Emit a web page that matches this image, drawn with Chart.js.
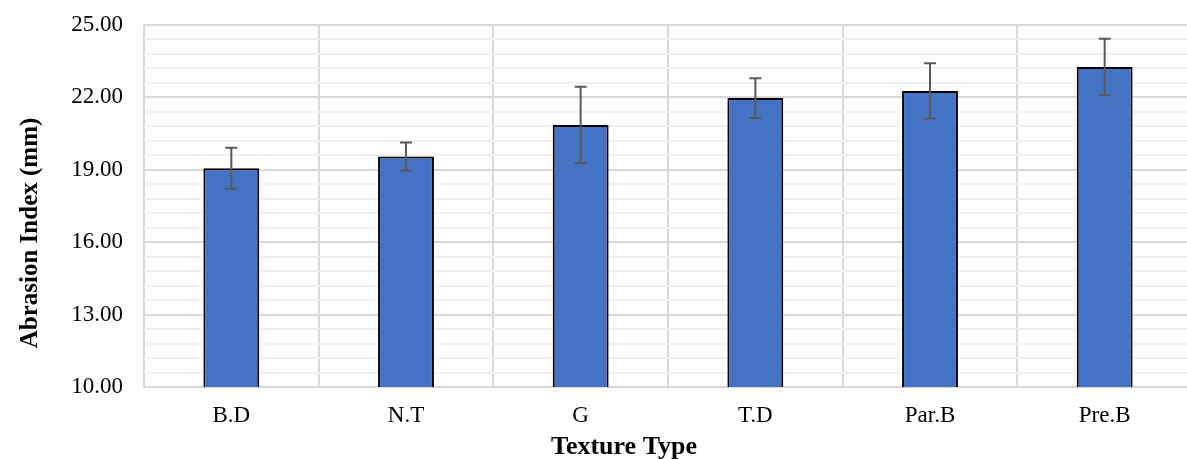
<!DOCTYPE html>
<html>
<head>
<meta charset="utf-8">
<script src="https://cdn.jsdelivr.net/npm/chart.js@4"></script>
<style>
  html, body { margin: 0; padding: 0; background: #fff; overflow: hidden; }
  #wrap { width: 1195px; height: 459px; position: relative; }
</style>
</head>
<body>
<div id="wrap"><canvas id="chart"></canvas></div>
<script>
// chart data
const categories = ["B.D", "N.T", "G", "T.D", "Par.B", "Pre.B"];
const values = [19.06, 19.55, 20.86, 21.97, 22.27, 23.26];
const errors = [0.85, 0.58, 1.58, 0.82, 1.14, 1.17];
const majorTicks = [10, 13, 16, 19, 22, 25];
const minorStep = 0.6;

const FONT = "'Liberation Serif', 'Times New Roman', serif";

// error bars drawn through the y scale
const errorBars = {
  id: "errorBars",
  afterDatasetsDraw(chart) {
    const ctx = chart.ctx;
    const y = chart.scales.y;
    const meta = chart.getDatasetMeta(0);
    ctx.save();
    ctx.strokeStyle = "#595959";
    ctx.lineWidth = 2;
    meta.data.forEach((bar, i) => {
      const top = y.getPixelForValue(values[i] + errors[i]);
      const bot = y.getPixelForValue(values[i] - errors[i]);
      ctx.beginPath();
      ctx.moveTo(bar.x, top);
      ctx.lineTo(bar.x, bot);
      ctx.moveTo(bar.x - 6, top);
      ctx.lineTo(bar.x + 6, top);
      ctx.moveTo(bar.x - 6, bot);
      ctx.lineTo(bar.x + 6, bot);
      ctx.stroke();
    });
    ctx.restore();
  }
};

// axis titles (placed like the original, not centred on the plot)
const axisTitles = {
  id: "axisTitles",
  afterDraw(chart) {
    const ctx = chart.ctx;
    ctx.save();
    ctx.fillStyle = "#000";
    ctx.textAlign = "center";
    ctx.textBaseline = "alphabetic";
    ctx.font = "bold 26px " + FONT;
    ctx.fillText("Texture Type", 624, 454);
    ctx.translate(37, 233);
    ctx.rotate(-Math.PI / 2);
    ctx.font = "bold 25px " + FONT;
    ctx.fillText("Abrasion Index (mm)", 0, 0);
    ctx.restore();
  }
};

const isMajor = v => majorTicks.some(m => Math.abs(m - v) < 1e-6);

new Chart(document.getElementById("chart"), {
  type: "bar",
  data: {
    labels: categories,
    datasets: [{
      data: values,
      backgroundColor: "#4472c4",
      borderColor: "#000",
      borderWidth: 2,
      borderSkipped: false,
      categoryPercentage: 1,
      barPercentage: 0.32
    }]
  },
  options: {
    responsive: true,
    maintainAspectRatio: false,
    animation: false,
    layout: { padding: { top: 25, right: 3, left: 0, bottom: 0 } },
    plugins: {
      legend: { display: false },
      tooltip: { enabled: false }
    },
    scales: {
      x: {
        grid: { color: "#d9d9d9", lineWidth: 2, drawTicks: false, offset: true },
        border: { color: "#d9d9d9", width: 2 },
        ticks: { color: "#000", font: { family: FONT, size: 23 }, padding: 15 },
        afterFit(s) { s.height = 72; s.paddingLeft = 0; s.paddingRight = 0; }
      },
      y: {
        min: 10,
        max: 25,
        afterBuildTicks(s) {
          const t = [];
          for (let i = 0; majorTicks[0] + i * minorStep <= majorTicks[majorTicks.length - 1] + 1e-6; i++) {
            t.push({ value: +(majorTicks[0] + i * minorStep).toFixed(2) });
          }
          s.ticks = t;
        },
        grid: {
          drawTicks: false,
          lineWidth: 2,
          color: c => isMajor(c.tick.value) ? "#d9d9d9" : "#f0f0f0"
        },
        border: { display: false },
        ticks: {
          autoSkip: false,
          color: "#000",
          font: { family: FONT, size: 23 },
          padding: 21,
          callback: v => isMajor(v) ? v.toFixed(2) : ""
        },
        afterFit(s) { s.width = 144; s.paddingTop = 0; s.paddingBottom = 0; }
      }
    }
  },
  plugins: [errorBars, axisTitles]
});
</script>
</body>
</html>
